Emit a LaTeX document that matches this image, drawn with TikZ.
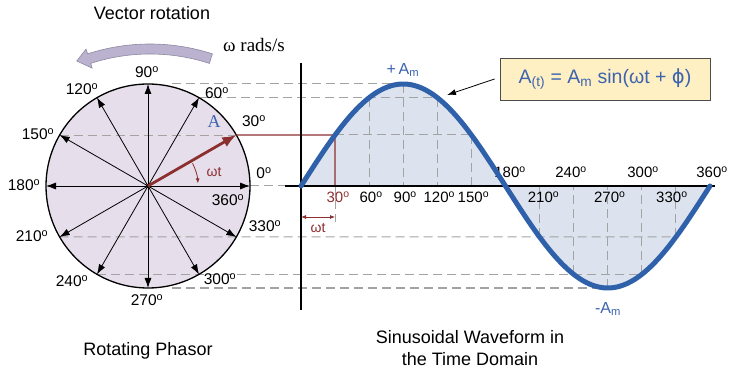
\documentclass[tikz,border=0pt]{standalone}
\usepackage{fontspec}
\setmainfont{Liberation Sans}
\newfontfamily\seriff{Liberation Serif}
\newfontfamily\djv{DejaVu Sans}
\usetikzlibrary{arrows.meta}
\definecolor{circfill}{HTML}{E6DEEB}
\definecolor{wavecol}{HTML}{2F60AA}
\definecolor{wavefill}{HTML}{DCE3EE}
\definecolor{phred}{HTML}{8C2F2F}
\definecolor{dashgray}{HTML}{A3A3A3}
\definecolor{boxfill}{HTML}{FFF0C4}
\definecolor{rotfill}{HTML}{BAB2CE}
\definecolor{rotdraw}{HTML}{8E88A0}
\definecolor{labblue}{HTML}{3B63AE}
\newcommand{\dg}{\textsuperscript{o}}
\begin{document}
\begin{tikzpicture}[x=1pt,y=1pt,
  lab/.style={font=\fontsize{15.5}{17}\selectfont, inner sep=0pt},
  wlab/.style={font=\fontsize{15}{17}\selectfont, inner sep=0pt},
  gdash/.style={dashgray, dash pattern=on 9pt off 5pt, line width=1pt},
  spoke/.style={-{Latex[length=10pt,width=7pt]}, line width=0.8pt},
  axisline/.style={line width=1.3pt, black},
  txt/.style={font=\fontsize{18}{22}\selectfont, inner sep=0pt, anchor=base}]
\useasboundingbox (0,0) rectangle (736,375);
% phasor circle
\node[circle, minimum size=204pt, inner sep=0pt, outer sep=0pt, fill=circfill] (phc) at (148,189) {};
% wave geometry
\foreach \a in {0,30,60,90,120,150,180,210,240,270,300,330,360}{
  \coordinate (w\a) at ({301+1.136111*\a},{189+102*sin(\a)});
  \coordinate (x\a) at ({301+1.136111*\a},189);
}
\fill[wavefill] (x0) -- plot[domain=0:360, samples=120] ({301+1.136111*\x},{189+102*sin(\x)}) -- cycle;
% dashed projection lines
\coordinate (c90) at (172,291);
\coordinate (c270) at (172,87);
\draw[gdash] (c90) -- (w90);
\draw[gdash] (phc.60) -- (w120);
\draw[gdash] (phc.150) -- (phc.30);
\draw[gdash] (w30) -- (w150);
\draw[gdash] (phc.0) -- (x0);
\draw[gdash] (phc.210) -- (w330);
\draw[gdash] (phc.240) -- (w300);
\draw[gdash] (c270) -- (w270);
\foreach \a in {60,90,120,150,210,240,270,300,330}{
  \draw[gdash] (w\a) -- (x\a);
}
\coordinate (d30) at ({301+1.136111*30},153);
\draw[gdash] (x30) -- (d30);
% circle outline and spokes
\draw[line width=1.3pt] (phc.center) circle (102pt);
\foreach \a in {0,60,90,120,150,180,210,240,270,300,330}{
  \draw[spoke] (phc.center) -- (phc.\a);
}
\fill (phc.center) circle (2pt);
\draw[phred, line width=2.8pt, -{Latex[length=14pt,width=11pt]}] (phc.center) -- (phc.30);
\draw[phred, line width=1.2pt] (phc.30) -- (w30) -- (x30);
\draw[phred, line width=0.8pt, -{Latex[length=5pt,width=4pt]}] ([shift={(148,189)}]27:50pt) arc[start angle=27, end angle=3, radius=50pt];
\node[inner sep=0pt, text=phred, font=\fontsize{14}{16}\selectfont] (wtc) at (214,203) {ωt};
\node[inner sep=0pt, text=labblue, font=\seriff\fontsize{18}{20}\selectfont] (Alab) at (214,253) {A};
% circle angle labels
\node[lab] (l90) at (147,303) {90\dg};
\node[lab] (l120) at (82,286) {120\dg};
\node[lab] (l60) at (217,282) {60\dg};
\node[lab] (l30) at (254,254) {30\dg};
\node[lab] (l150) at (38,241) {150\dg};
\node[lab] (l180) at (24,190) {180\dg};
\node[lab] (l0) at (264,202) {0\dg};
\node[lab] (l360) at (228,175) {360\dg};
\node[lab] (l330) at (265,149) {330\dg};
\node[lab] (l210) at (32,139) {210\dg};
\node[lab] (l240) at (72,94) {240\dg};
\node[lab] (l270) at (147,75) {270\dg};
\node[lab] (l300) at (220,96) {300\dg};
% rotation arrow
\fill[rotfill, draw=rotdraw, line width=0.6pt] ([shift={(150,129)}]72:202pt) arc[start angle=72,end angle=108,radius=202pt] -- ([shift={(150,129)}]108:207pt) -- ([shift={(150,129)}]111.6:199pt) -- ([shift={(150,129)}]108:187pt) -- ([shift={(150,129)}]108:192pt) arc[start angle=108,end angle=72,radius=192pt] -- cycle;
\node[txt] (vrot) at (152,355) {Vector rotation};
\node[inner sep=0pt, anchor=base, font=\seriff\fontsize{19}{22}\selectfont] (wrad) at (254,323) {ω rads/s};
% axis labels of the waveform
\node[wlab, text=phred] (a30) at ({301+1.136111*30+3},178) {30\dg};
\node[wlab] (a60) at ({301+1.136111*60+2},178) {60\dg};
\node[wlab] (a90) at ({301+1.136111*90+2},178) {90\dg};
\node[wlab] (a120) at ({301+1.136111*120+2},178) {120\dg};
\node[wlab] (a150) at ({301+1.136111*150+2},178) {150\dg};
\node[wlab] (a210) at ({301+1.136111*210+4},178) {210\dg};
\node[wlab] (a270) at ({301+1.136111*270+2},178) {270\dg};
\node[wlab] (a330) at ({301+1.136111*330-4},178) {330\dg};
\node[wlab] (a180) at (510,203) {180\dg};
\node[wlab] (a240) at (571,203) {240\dg};
\node[wlab] (a300) at (643,203) {300\dg};
\node[wlab] (a360) at (712,203) {360\dg};
% axes
\coordinate (ytop) at (301,312);
\coordinate (ybot) at (301,65);
\coordinate (xl) at (285,189);
\coordinate (xr) at (715,189);
\draw[axisline] (ytop) -- (ybot);
\draw[axisline] (xl) -- (xr);
% waveform
\draw[wavecol, line width=5pt, line cap=round] plot[domain=0:360, samples=120] ({301+1.136111*\x},{189+102*sin(\x)});
\node[inner sep=0pt, text=labblue, font=\fontsize{16}{18}\selectfont] (pam) at (403,305) {+\,A\textsubscript{m}};
\node[inner sep=0pt, text=labblue, font=\fontsize{16}{18}\selectfont] (nam) at (608,66) {-A\textsubscript{m}};
% omega t dimension
\coordinate (dd0) at (301,158);
\coordinate (dd30) at ({301+1.136111*30},158);
\draw[phred, line width=0.8pt, {Latex[length=5pt,width=4pt]}-{Latex[length=5pt,width=4pt]}] (dd0) -- (dd30);
\node[inner sep=0pt, text=phred, font=\fontsize{14}{16}\selectfont] (wtd) at (318,147) {ωt};
% formula box
\node[draw=black!70, fill=boxfill, line width=0.8pt, minimum width=210pt, minimum height=42pt, inner sep=0pt, text=labblue, font=\fontsize{19.5}{22}\selectfont] (fbox) at (605,296) {A\textsubscript{(t)} = A\textsubscript{m} sin(ωt + {\djv ϕ})};
\coordinate (ptr) at (447,280);
\draw[line width=0.8pt, -{Latex[length=9pt,width=6pt]}] ([xshift=-5pt]fbox.west) -- (ptr);
% captions
\node[txt] (cap1) at (148,20) {Rotating Phasor};
\node[txt] (cap2) at (470,32) {Sinusoidal Waveform in};
\node[txt] (cap3) at (470,10) {the Time Domain};
\end{tikzpicture}
\end{document}
